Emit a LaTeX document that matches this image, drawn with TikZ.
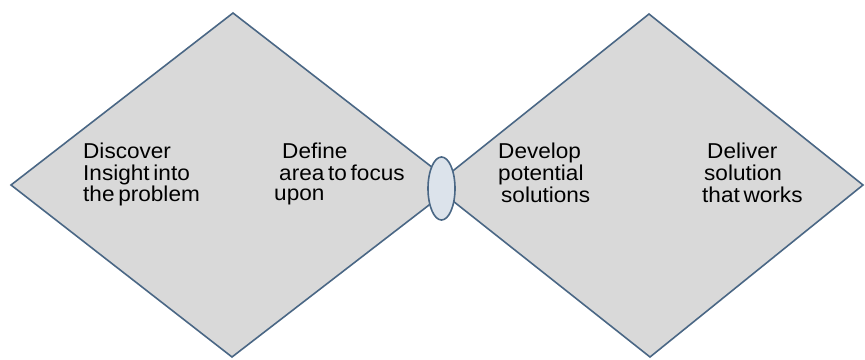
\documentclass[tikz,border=0pt]{standalone}
\usepackage{fontspec}
\usetikzlibrary{shapes.geometric}
\newfontfamily\lblfont[FakeStretch=1.05,WordSpace=0.6]{Liberation Sans}
\definecolor{dfill}{HTML}{D9D9D9}
\definecolor{dline}{HTML}{4A6785}
\definecolor{efill}{HTML}{DCE3EB}
\begin{document}
\begin{tikzpicture}[x=1pt,y=-1pt,
  shapeline/.style={draw=dline,line width=1.6pt,line join=miter},
  lbl/.style={anchor=base west,inner sep=0pt,font=\lblfont\fontsize{21.5}{23}\selectfont,text=black}]
\useasboundingbox (0,0) rectangle (865,359);
\fill[white] (0,0) rectangle (865,359);
% left diamond
\filldraw[shapeline,fill=dfill] (233,13) -- (455,185) -- (232,357) -- (11,185) -- cycle;
% right diamond
\filldraw[shapeline,fill=dfill] (649,14) -- (863,185) -- (650,357) -- (434,186) -- cycle;
% connector ellipse
\node[shapeline,fill=efill,ellipse,minimum width=27pt,minimum height=63pt,inner sep=0pt] (link) at (441.5,188.5) {};
% texts
\node[lbl] (disc1) at (83,158) {Discover};
\node[lbl] (disc2) at (83,180) {Insight into};
\node[lbl] (disc3) at (83,201) {the problem};
\node[lbl] (def1) at (282,158) {Define};
\node[lbl] (def2) at (279,180) {area to focus};
\node[lbl] (def3) at (274,200) {upon};
\node[lbl] (dev1) at (498,158) {Develop};
\node[lbl] (dev2) at (498,180) {potential};
\node[lbl] (dev3) at (501,202) {solutions};
\node[lbl] (del1) at (707,158) {Deliver};
\node[lbl] (del2) at (704,180) {solution};
\node[lbl] (del3) at (702,202) {that works};
\end{tikzpicture}
\end{document}
